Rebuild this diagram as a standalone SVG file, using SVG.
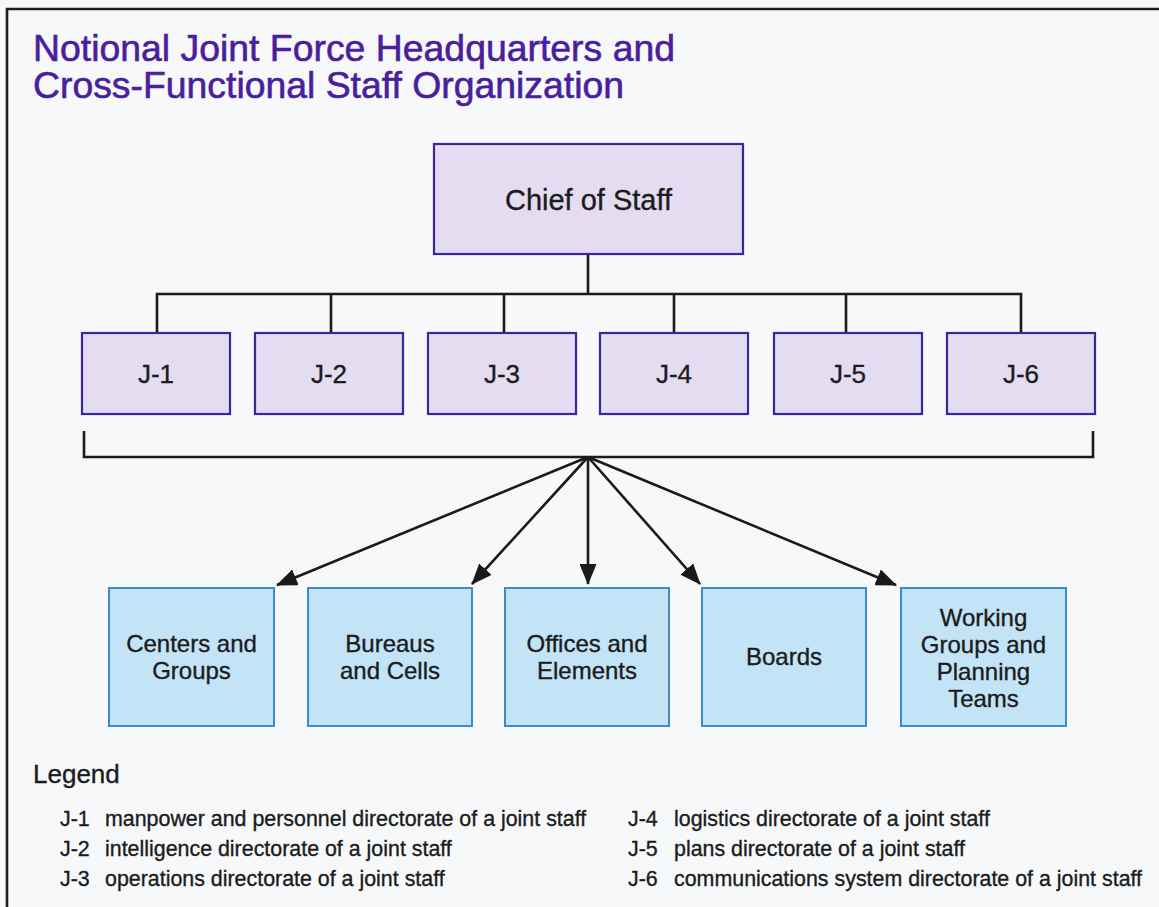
<svg xmlns="http://www.w3.org/2000/svg" width="1159" height="907" viewBox="0 0 1159 907">
<defs>
<style>
.t{font-family:"Liberation Sans",Arial,sans-serif;fill:#1c1c1c;stroke:#1c1c1c;stroke-width:0.35}
.title{font-family:"Liberation Sans",Arial,sans-serif;fill:#4a1e9c;stroke:#4a1e9c;stroke-width:0.6;font-size:37px}
.pbox{fill:#e4dcf1;stroke:#3a2898;stroke-width:2.2}
.bbox{fill:#c3e3f6;stroke:#3a8dca;stroke-width:2}
.ln{fill:none;stroke:#1a1a1a;stroke-width:2.6}
.arr{fill:none;stroke:#1a1a1a;stroke-width:2.6;marker-end:url(#ah)}
.jl{font-size:26px;text-anchor:middle}
.bl{font-size:24px;text-anchor:middle}
.lg{font-size:21.4px}
</style>
<marker id="ah" markerUnits="userSpaceOnUse" markerWidth="21" markerHeight="17" viewBox="0 0 21 17" refX="20" refY="8.5" orient="auto">
<path d="M0,0 L21,8.5 L0,17 Z" fill="#1a1a1a"/>
</marker>
</defs>
<rect width="1159" height="907" fill="#f6f8fa"/>
<path d="M7,907 V9 H1159" fill="none" stroke="#1e1e1e" stroke-width="2.6"/>
<g id="title">
<text class="title" x="33" y="61" textLength="642" lengthAdjust="spacingAndGlyphs">Notional Joint Force Headquarters and</text>
<text class="title" x="33" y="98" textLength="591" lengthAdjust="spacingAndGlyphs">Cross-Functional Staff Organization</text>
</g>
<g id="connectors">
<path class="ln" d="M588,254 V294 M157,333 V294 H1021 V333 M331,294 V333 M504,294 V333 M674,294 V333 M846,294 V333"/>
<path class="ln" d="M84,431 V457 H1093 V431"/>
<line class="arr" x1="588" y1="457" x2="277" y2="585"/>
<line class="arr" x1="588" y1="457" x2="472" y2="584"/>
<line class="arr" x1="588" y1="457" x2="588" y2="584"/>
<line class="arr" x1="588" y1="457" x2="700" y2="584"/>
<line class="arr" x1="588" y1="457" x2="896" y2="585"/>
</g>
<g id="chief">
<rect class="pbox" x="434" y="144" width="309" height="110"/>
<text class="t" x="588.5" y="210" font-size="29" text-anchor="middle">Chief of Staff</text>
</g>
<g id="j1"><rect class="pbox" x="82" y="333" width="148" height="81"/><text class="t jl" x="156" y="383">J-1</text></g>
<g id="j2"><rect class="pbox" x="255" y="333" width="148" height="81"/><text class="t jl" x="329" y="383">J-2</text></g>
<g id="j3"><rect class="pbox" x="428" y="333" width="148" height="81"/><text class="t jl" x="502" y="383">J-3</text></g>
<g id="j4"><rect class="pbox" x="600" y="333" width="148" height="81"/><text class="t jl" x="674" y="383">J-4</text></g>
<g id="j5"><rect class="pbox" x="774" y="333" width="148" height="81"/><text class="t jl" x="848" y="383">J-5</text></g>
<g id="j6"><rect class="pbox" x="947" y="333" width="148" height="81"/><text class="t jl" x="1021" y="383">J-6</text></g>
<g id="centers"><rect class="bbox" x="109" y="588" width="165" height="138"/>
<text class="t bl" x="191.5" y="652">Centers and</text><text class="t bl" x="191.5" y="679">Groups</text></g>
<g id="bureaus"><rect class="bbox" x="308" y="588" width="164" height="138"/>
<text class="t bl" x="390" y="652">Bureaus</text><text class="t bl" x="390" y="679">and Cells</text></g>
<g id="offices"><rect class="bbox" x="505" y="588" width="164" height="138"/>
<text class="t bl" x="587" y="652">Offices and</text><text class="t bl" x="587" y="679">Elements</text></g>
<g id="boards"><rect class="bbox" x="702" y="588" width="164" height="138"/>
<text class="t bl" x="784" y="665">Boards</text></g>
<g id="working"><rect class="bbox" x="901" y="588" width="165" height="138"/>
<text class="t bl" x="983.5" y="626">Working</text><text class="t bl" x="983.5" y="653">Groups and</text><text class="t bl" x="983.5" y="680">Planning</text><text class="t bl" x="983.5" y="707">Teams</text></g>
<g id="legend">
<text class="t" x="33" y="783" font-size="26">Legend</text>
<text class="t lg" x="60" y="826">J-1</text><text class="t lg" x="105" y="826">manpower and personnel directorate of a joint staff</text>
<text class="t lg" x="60" y="856">J-2</text><text class="t lg" x="105" y="856">intelligence directorate of a joint staff</text>
<text class="t lg" x="60" y="886">J-3</text><text class="t lg" x="105" y="886">operations directorate of a joint staff</text>
<text class="t lg" x="628" y="826">J-4</text><text class="t lg" x="674" y="826">logistics directorate of a joint staff</text>
<text class="t lg" x="628" y="856">J-5</text><text class="t lg" x="674" y="856">plans directorate of a joint staff</text>
<text class="t lg" x="628" y="886">J-6</text><text class="t lg" x="674" y="886">communications system directorate of a joint staff</text>
</g>
</svg>
